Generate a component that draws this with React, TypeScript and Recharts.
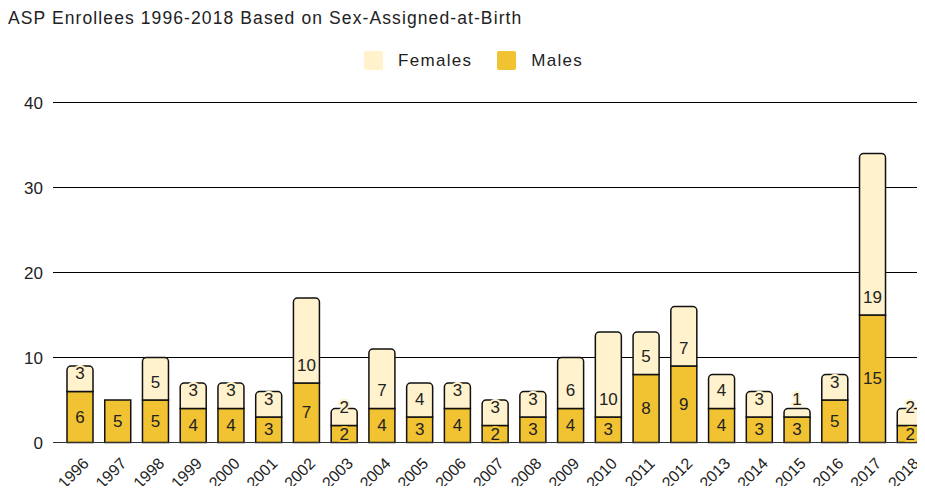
import { BarChart, Bar, XAxis, YAxis, CartesianGrid, LabelList } from 'recharts'

const years = ['1996', '1997', '1998', '1999', '2000', '2001', '2002', '2003', '2004', '2005', '2006', '2007', '2008', '2009', '2010', '2011', '2012', '2013', '2014', '2015', '2016', '2017', '2018']
const males = [6, 5, 5, 4, 4, 3, 7, 2, 4, 3, 4, 2, 3, 4, 3, 8, 9, 4, 3, 3, 5, 15, 2]
const females = [3, 0, 5, 3, 3, 3, 10, 2, 7, 4, 3, 3, 3, 6, 10, 5, 7, 4, 3, 1, 3, 19, 2]
const yTicks = [0, 10, 20, 30, 40]

const data = years.map((year, i) => ({ year, males: males[i], females: females[i] }))

const FONT = '"Liberation Sans", Arial, sans-serif'
const MALE = '#f1c232'
const FEMALE = '#fff2cc'

function XTick(props: any) {
  const { x, y, payload } = props
  const ax = x + 6
  const ay = y + 18
  return (
    <text
      x={ax}
      y={ay}
      textAnchor="end"
      dominantBaseline="central"
      transform={`rotate(-45, ${ax}, ${ay})`}
      fontSize={16}
      fill="#222"
      fontFamily={FONT}
    >
      {payload.value}
    </text>
  )
}

// male labels sit in the middle of the segment, female labels near its bottom
const segLabel = (color: string, atBottom: boolean) => (props: any) => {
  const { x, y, width, height, value } = props
  const cy = atBottom ? y + height - 18 : y + height / 2
  return (
    <text
      x={x + width / 2}
      y={cy}
      textAnchor="middle"
      dominantBaseline="central"
      fontSize={17}
      fill="#222"
      stroke={color}
      strokeWidth={4}
      strokeLinejoin="round"
      paintOrder="stroke"
      fontFamily={FONT}
    >
      {value}
    </text>
  )
}

export default function App() {
  return (
    <div style={{ margin: -8, width: 925, height: 494, overflow: 'hidden', position: 'relative', background: '#fff', fontFamily: FONT }}>
      <div style={{ position: 'absolute', left: 8, top: 8, fontSize: 17.5, letterSpacing: 1.1, color: '#222', whiteSpace: 'nowrap' }}>
        ASP Enrollees 1996-2018 Based on Sex-Assigned-at-Birth
      </div>
      <div style={{ position: 'absolute', left: 364, top: 51, height: 19, display: 'flex', alignItems: 'center', fontSize: 17, letterSpacing: 1.3, color: '#222' }}>
        <span style={{ width: 19, height: 19, background: FEMALE, borderRadius: 2, display: 'inline-block' }} />
        <span style={{ marginLeft: 15 }}>Females</span>
        <span style={{ width: 19, height: 19, background: MALE, borderRadius: 2, display: 'inline-block', marginLeft: 25 }} />
        <span style={{ marginLeft: 15 }}>Males</span>
      </div>
      <BarChart
        width={934}
        height={494}
        data={data}
        margin={{ top: 102.5, right: 5, bottom: 0, left: 0 }}
        barSize={26}
      >
        <CartesianGrid vertical={false} stroke="#000" strokeWidth={1} />
        <XAxis
          dataKey="year"
          interval={0}
          height={51.5}
          padding={{ left: 8, right: 0 }}
          tickLine={false}
          tickSize={0}
          tickMargin={0}
          axisLine={{ stroke: '#333', strokeWidth: 1 }}
          tick={<XTick />}
        />
        <YAxis
          domain={[0, 40]}
          ticks={yTicks}
          width={53}
          axisLine={false}
          tickLine={false}
          tickSize={0}
          tickMargin={10}
          tick={{ fontSize: 17, fill: '#222', fontFamily: FONT }}
        />
        <Bar dataKey="males" stackId="a" fill={MALE} stroke="#111" strokeWidth={1.5} isAnimationActive={false}>
          <LabelList dataKey="males" content={segLabel(MALE, false)} />
        </Bar>
        <Bar dataKey="females" stackId="a" fill={FEMALE} stroke="#111" strokeWidth={1.5} radius={[4, 4, 0, 0]} isAnimationActive={false}>
          <LabelList dataKey="females" content={segLabel(FEMALE, true)} />
        </Bar>
      </BarChart>
    </div>
  )
}
